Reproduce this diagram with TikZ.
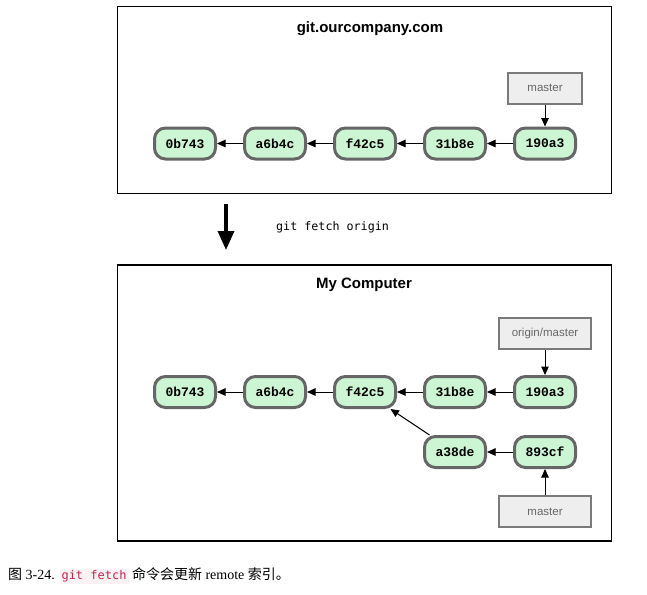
\documentclass[tikz,border=0pt]{standalone}
\usepackage{fontspec}
\setmainfont{Liberation Serif}
\setsansfont{Liberation Sans}
\newfontfamily\hashfont{Liberation Mono}
\newfontfamily\termfont{DejaVu Sans Mono}
\newfontfamily\cjk{Noto Sans CJK SC}
\usepackage{xcolor}
\usetikzlibrary{arrows.meta,positioning}
\definecolor{commitfill}{HTML}{CCF5D3}
\definecolor{commitline}{HTML}{666666}
\definecolor{reffill}{HTML}{EEEEEE}
\definecolor{refline}{HTML}{7A7A7A}
\definecolor{reftext}{HTML}{666666}
\definecolor{codetext}{HTML}{C7254E}
\definecolor{codeback}{HTML}{F9F2F4}

\begin{document}
\begin{tikzpicture}[x=1pt, y=1pt, node distance=26pt,
    commit/.style={rectangle, draw=commitline, fill=commitfill, line width=3pt, rounded corners=11pt, minimum width=61pt, minimum height=31pt, inner sep=0pt, font=\hashfont\bfseries\fontsize{13}{15}\selectfont},
    branchref/.style={rectangle, draw=refline, fill=reffill, line width=2pt, minimum height=31pt, inner sep=0pt, text=reftext, font=\sffamily\fontsize{11.5}{13}\selectfont},
    repo/.style={rectangle, draw, line width=1.8pt, minimum width=494pt},
    repotitle/.style={font=\sffamily\bfseries\fontsize{15}{17}\selectfont},
    parent/.style={-{Triangle[length=8.5pt,width=7.5pt]}, line width=1pt}]
    \fill[white] (0,0) rectangle (647,-594);
    \useasboundingbox (0,0) rectangle (647,-594);

    % server repository
    \node[repo, minimum height=187pt] (server) at (364.5,-100) {};
    \node[repotitle] (servername) at (370,-28.5) {git.ourcompany.com};
    \node[commit] (srv0b743) at (185,-143.5) {0b743};
    \node[commit, right=of srv0b743] (srva6b4c) {a6b4c};
    \node[commit, right=of srva6b4c] (srvf42c5) {f42c5};
    \node[commit, right=of srvf42c5] (srv31b8e) {31b8e};
    \node[commit, right=of srv31b8e] (srv190a3) {190a3};
    \node[branchref, minimum width=74pt, above=22pt of srv190a3] (srvmaster) {master};

    \draw[parent] (srv190a3) -- (srv31b8e);
    \draw[parent] (srv31b8e) -- (srvf42c5);
    \draw[parent] (srvf42c5) -- (srva6b4c);
    \draw[parent] (srva6b4c) -- (srv0b743);
    \draw[parent] (srvmaster) -- (srv190a3);

    % fetch step
    \coordinate (fetchstart) at (226,-204);
    \coordinate (fetchend) at (226,-250);
    \draw[-{Triangle[length=19pt,width=16pt]}, line width=3.5pt] (fetchstart) -- (fetchend);
    \node[anchor=west, inner sep=0pt, font=\termfont\fontsize{11.7}{14}\selectfont] (fetchlabel) at (276,-227) {git fetch origin};

    % local repository
    \node[repo, minimum height=276pt] (local) at (364.5,-403) {};
    \node[repotitle] (localname) at (364,-284.5) {My Computer};
    \node[commit] (loc0b743) at (185,-392) {0b743};
    \node[commit, right=of loc0b743] (loca6b4c) {a6b4c};
    \node[commit, right=of loca6b4c] (locf42c5) {f42c5};
    \node[commit, right=of locf42c5] (loc31b8e) {31b8e};
    \node[commit, right=of loc31b8e] (loc190a3) {190a3};
    \node[commit, below=26pt of loc31b8e] (loca38de) {a38de};
    \node[commit, right=of loca38de] (loc893cf) {893cf};
    \node[branchref, minimum width=92pt, above=25pt of loc190a3] (locorigin) {origin/master};
    \node[branchref, minimum width=92pt, below=26pt of loc893cf] (locmaster) {master};

    \draw[parent] (loc190a3) -- (loc31b8e);
    \draw[parent] (loc31b8e) -- (locf42c5);
    \draw[parent] (locf42c5) -- (loca6b4c);
    \draw[parent] (loca6b4c) -- (loc0b743);
    \draw[parent] (loc893cf) -- (loca38de);
    \draw[parent] (loca38de) -- (locf42c5);
    \draw[parent] (locorigin) -- (loc190a3);
    \draw[parent] (locmaster) -- (loc893cf);

    % caption
    \node[anchor=west, inner sep=0pt, font=\fontsize{14}{16}\selectfont] (caption) at (8,-576) {{\cjk 图} 3-24. \setlength{\fboxsep}{2pt}\colorbox{codeback}{\color{codetext}\termfont\fontsize{12}{14}\selectfont git fetch} {\cjk 命令会更新} remote {\cjk 索引。}};
\end{tikzpicture}
\end{document}
